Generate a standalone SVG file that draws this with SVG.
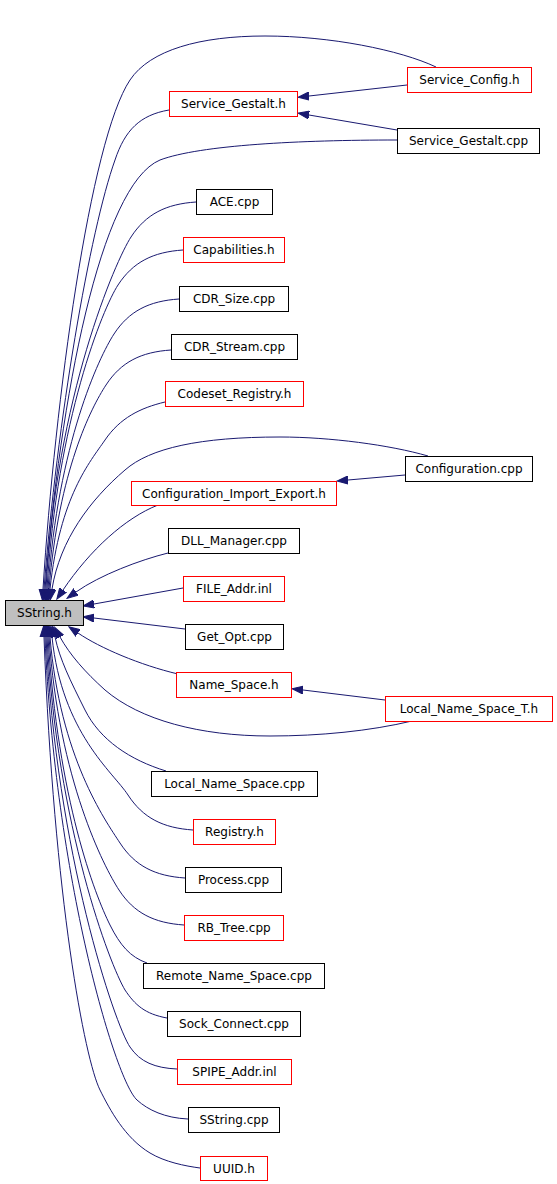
<svg xmlns="http://www.w3.org/2000/svg" width="557" height="1184" viewBox="0 0 557 1184">
<style>
.n rect{fill:#ffffff;stroke-width:1}
.r rect{stroke:#ff0000}
.b rect{stroke:#000000}
.n text{font-family:"DejaVu Sans","Liberation Sans",sans-serif;font-size:12px;fill:#000000;text-anchor:middle}
#edges path{fill:none;stroke:#191970;stroke-width:1}
</style>
<defs>
<marker id="ah" markerWidth="12" markerHeight="9" refX="0" refY="4.5" orient="auto" markerUnits="userSpaceOnUse" viewBox="0 0 12 9">
<path d="M0,0.5 L11,4.5 L0,8.5 z" fill="#191970" stroke="#191970"/>
</marker>
</defs>
<rect width="557" height="1184" fill="#ffffff"/>
<g id="edges">
<path marker-end="url(#ah)" d="M436,67 C400,50 330,36 265,36 C200,36 150,50 130,80 C90,140 55,400 43,589"/>
<path marker-end="url(#ah)" d="M169,110 C140,115 125,130 115,160 C90,230 57,420 44,589"/>
<path marker-end="url(#ah)" d="M397,140 C300,140 200,145 160,160 C100,185 60,400 45,589"/>
<path marker-end="url(#ah)" d="M407,85 L309,96"/>
<path marker-end="url(#ah)" d="M397,130 L309,115"/>
<path marker-end="url(#ah)" d="M196,202 C166,204 146,214 131,237 C116,260 56,396 46,589"/>
<path marker-end="url(#ah)" d="M183,250 C153,252 133,262 118,285 C103,308 57,420 47,589"/>
<path marker-end="url(#ah)" d="M179,299 C149,301 129,311 114,334 C99,357 58,444 48,589"/>
<path marker-end="url(#ah)" d="M171,350 C141,352 121,362 106,385 C91,408 59,470 49,589"/>
<path marker-end="url(#ah)" d="M165,402 C140,408 120,418 105,440 C90,462 60,496 50,589"/>
<path marker-end="url(#ah)" d="M428,456 C390,445 330,437 280,437 C200,437 150,448 125,470 C90,500 60,540 52,589"/>
<path marker-end="url(#ah)" d="M405,475 L348,480"/>
<path marker-end="url(#ah)" d="M158,505 C125,518 90,550 63,590"/>
<path marker-end="url(#ah)" d="M168,553 C140,560 100,575 76,592"/>
<path marker-end="url(#ah)" d="M183,588 L94,604"/>
<path marker-end="url(#ah)" d="M185,629 L94,618"/>
<path marker-end="url(#ah)" d="M178,674 C140,665 100,648 78,633"/>
<path marker-end="url(#ah)" d="M385,700 L303,690"/>
<path marker-end="url(#ah)" d="M412,721 C370,731 320,736 270,736 C200,736 140,720 105,690 C85,672 70,655 60,637"/>
<path marker-end="url(#ah)" d="M166,771 C130,760 100,740 85,710 C70,680 60,660 55,637"/>
<path marker-end="url(#ah)" d="M193,830 C163,828 143,818 128,795 C113,772 62,733 52,637"/>
<path marker-end="url(#ah)" d="M185,878 C155,876 135,866 120,843 C105,820 60,757 50,637"/>
<path marker-end="url(#ah)" d="M184,925 C154,923 134,913 119,890 C104,867 59,780 49,637"/>
<path marker-end="url(#ah)" d="M147,963 C130,957 120,945 110,925 C95,895 58,800 48,637"/>
<path marker-end="url(#ah)" d="M167,1018 C145,1014 135,1005 125,990 C110,965 57,827 47,637"/>
<path marker-end="url(#ah)" d="M177,1069 C155,1068 140,1062 130,1047 C115,1025 56,852 46,637"/>
<path marker-end="url(#ah)" d="M188,1119 C165,1118 148,1110 137,1100 C115,1080 55,877 45,637"/>
<path marker-end="url(#ah)" d="M200,1168 C185,1166 165,1162 150,1153 C125,1138 110,1110 100,1090 C85,1060 54,900 44,637"/>
</g>
<g id="n_sstring_h" class="n b"><rect x="5.5" y="600.5" width="78" height="25" style="fill:#bfbfbf"/><text x="44.5" y="617">SString.h</text></g>
<g id="n_service_gestalt_h" class="n r"><rect x="169.5" y="91.5" width="128" height="25"/><text x="233.5" y="108">Service_Gestalt.h</text></g>
<g id="n_service_config_h" class="n r"><rect x="407.5" y="67.5" width="124" height="25"/><text x="469.5" y="84">Service_Config.h</text></g>
<g id="n_service_gestalt_cpp" class="n b"><rect x="397.5" y="128.5" width="142" height="25"/><text x="468.5" y="145">Service_Gestalt.cpp</text></g>
<g id="n_ace_cpp" class="n b"><rect x="196.5" y="189.5" width="76" height="25"/><text x="234.5" y="206">ACE.cpp</text></g>
<g id="n_capabilities_h" class="n r"><rect x="183.5" y="237.5" width="101" height="25"/><text x="234" y="254">Capabilities.h</text></g>
<g id="n_cdr_size_cpp" class="n b"><rect x="179.5" y="286.5" width="109" height="25"/><text x="234" y="303">CDR_Size.cpp</text></g>
<g id="n_cdr_stream_cpp" class="n b"><rect x="171.5" y="334.5" width="126" height="25"/><text x="234.5" y="351">CDR_Stream.cpp</text></g>
<g id="n_codeset_registry_h" class="n r"><rect x="165.5" y="381.5" width="138" height="25"/><text x="234.5" y="398">Codeset_Registry.h</text></g>
<g id="n_configuration_cpp" class="n b"><rect x="405.5" y="456.5" width="127" height="25"/><text x="469" y="473">Configuration.cpp</text></g>
<g id="n_configuration_import_export_h" class="n r"><rect x="131.5" y="481.5" width="205" height="24"/><text x="234" y="498">Configuration_Import_Export.h</text></g>
<g id="n_dll_manager_cpp" class="n b"><rect x="168.5" y="528.5" width="131" height="25"/><text x="234" y="545">DLL_Manager.cpp</text></g>
<g id="n_file_addr_inl" class="n r"><rect x="183.5" y="576.5" width="101" height="25"/><text x="234" y="593">FILE_Addr.inl</text></g>
<g id="n_get_opt_cpp" class="n b"><rect x="185.5" y="624.5" width="98" height="25"/><text x="234.5" y="641">Get_Opt.cpp</text></g>
<g id="n_name_space_h" class="n r"><rect x="176.5" y="672.5" width="115" height="25"/><text x="234" y="689">Name_Space.h</text></g>
<g id="n_local_name_space_t_h" class="n r"><rect x="385.5" y="696.5" width="167" height="25"/><text x="469" y="713">Local_Name_Space_T.h</text></g>
<g id="n_local_name_space_cpp" class="n b"><rect x="151.5" y="771.5" width="166" height="25"/><text x="234.5" y="788">Local_Name_Space.cpp</text></g>
<g id="n_registry_h" class="n r"><rect x="193.5" y="819.5" width="82" height="25"/><text x="234.5" y="836">Registry.h</text></g>
<g id="n_process_cpp" class="n b"><rect x="185.5" y="867.5" width="96" height="25"/><text x="233.5" y="884">Process.cpp</text></g>
<g id="n_rb_tree_cpp" class="n r"><rect x="184.5" y="915.5" width="99" height="25"/><text x="234" y="932">RB_Tree.cpp</text></g>
<g id="n_remote_name_space_cpp" class="n b"><rect x="143.5" y="963.5" width="181" height="25"/><text x="234" y="980">Remote_Name_Space.cpp</text></g>
<g id="n_sock_connect_cpp" class="n b"><rect x="167.5" y="1011.5" width="133" height="25"/><text x="234" y="1028">Sock_Connect.cpp</text></g>
<g id="n_spipe_addr_inl" class="n r"><rect x="177.5" y="1059.5" width="114" height="25"/><text x="234.5" y="1076">SPIPE_Addr.inl</text></g>
<g id="n_sstring_cpp" class="n b"><rect x="188.5" y="1107.5" width="91" height="25"/><text x="234" y="1124">SString.cpp</text></g>
<g id="n_uuid_h" class="n r"><rect x="200.5" y="1156.5" width="67" height="24"/><text x="234" y="1173">UUID.h</text></g>
</svg>
